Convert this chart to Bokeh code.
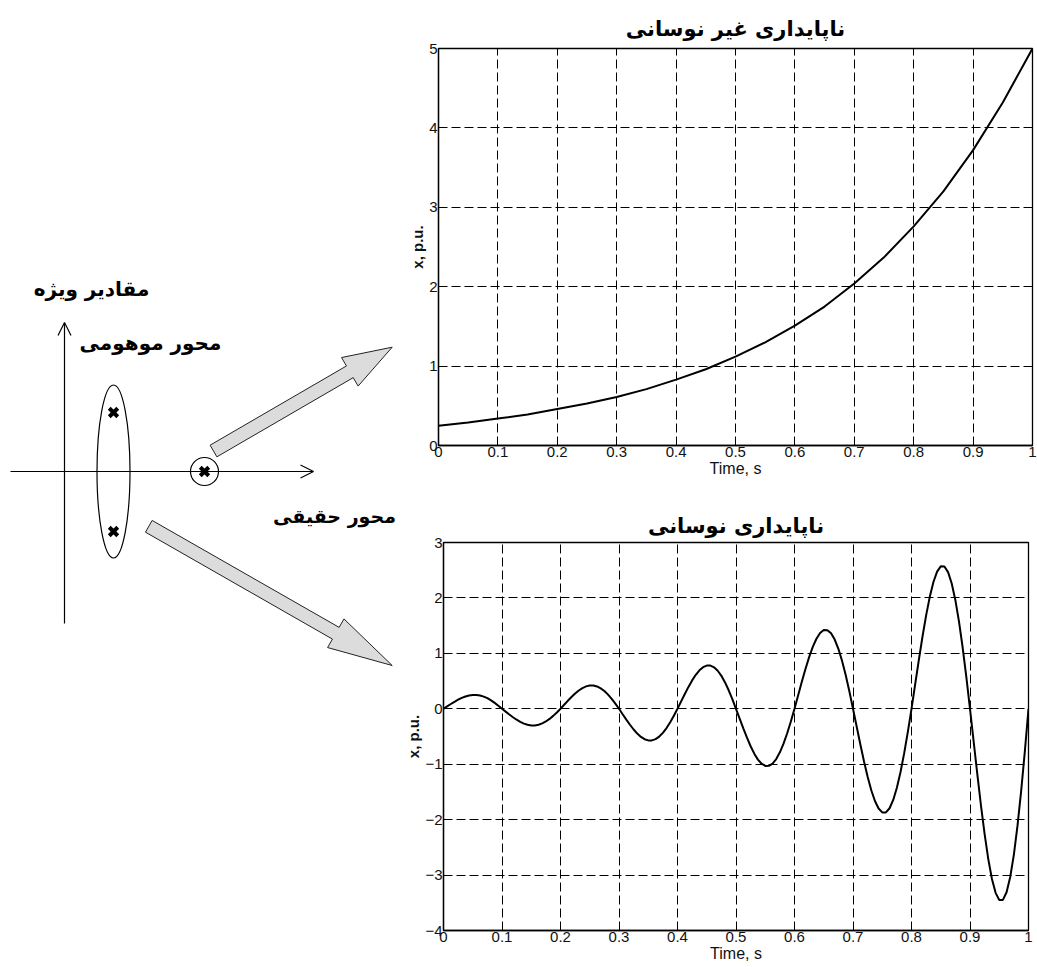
import numpy as np
from bokeh.plotting import figure
from bokeh.layouts import row, column
from bokeh.models import Range1d, FixedTicker, Arrow, OpenHead
from bokeh.embed import file_html
from bokeh.resources import INLINE
from bokeh.core.properties import value

# ---------------- data ----------------
title_top = "ناپایداری غیر نوسانی"
title_bottom = "ناپایداری نوسانی"
label_eig = "مقادیر ویژه"
label_imag = "محور موهومی"
label_real = "محور حقیقی"
x_label = "Time, s"
y_label = "x, p.u."

x_ticks = [0, 0.1, 0.2, 0.3, 0.4, 0.5, 0.6, 0.7, 0.8, 0.9, 1]
x_tick_labels = ["0", "0.1", "0.2", "0.3", "0.4", "0.5", "0.6", "0.7", "0.8", "0.9", "1"]
y_ticks_top = [0, 1, 2, 3, 4, 5]
y_ticks_bottom = [-4, -3, -2, -1, 0, 1, 2, 3]

# non-oscillatory instability
t_top = [0, 0.05, 0.1, 0.15, 0.2, 0.25, 0.3, 0.35, 0.4, 0.45, 0.5,
         0.55, 0.6, 0.65, 0.7, 0.75, 0.8, 0.85, 0.9, 0.95, 1.0]
x_top = [0.25, 0.29, 0.34, 0.39, 0.46, 0.53, 0.61, 0.71, 0.83, 0.96, 1.12,
         1.30, 1.51, 1.75, 2.04, 2.37, 2.76, 3.20, 3.72, 4.32, 5.00]

# oscillatory instability (every 0.00625 s)
t_osc = np.linspace(0, 1, 161)
x_osc = [0,
         0.043, 0.086, 0.126, 0.164, 0.197, 0.222, 0.241, 0.25, 0.250, 0.240, 0.220, 0.191, 0.153, 0.107, 0.056, 0,
         -0.051, -0.103, -0.152, -0.197, -0.236, -0.267, -0.289, -0.30, -0.300, -0.288, -0.264, -0.229, -0.183, -0.128, -0.067, 0,
         0.072, 0.144, 0.212, 0.276, 0.330, 0.374, 0.404, 0.42, 0.420, 0.403, 0.369, 0.320, 0.256, 0.180, 0.093, 0,
         -0.098, -0.195, -0.288, -0.374, -0.448, -0.507, -0.549, -0.57, -0.570, -0.547, -0.501, -0.434, -0.348, -0.244, -0.127, 0,
         0.133, 0.267, 0.395, 0.512, 0.613, 0.694, 0.751, 0.78, 0.779, 0.748, 0.686, 0.595, 0.476, 0.334, 0.174, 0,
         -0.176, -0.352, -0.521, -0.676, -0.810, -0.917, -0.991, -1.03, -1.029, -0.988, -0.906, -0.785, -0.629, -0.441, -0.229, 0,
         0.243, 0.486, 0.718, 0.932, 1.116, 1.264, 1.367, 1.42, 1.419, 1.362, 1.249, 1.082, 0.866, 0.608, 0.316, 0,
         -0.320, -0.640, -0.946, -1.227, -1.470, -1.664, -1.800, -1.87, -1.869, -1.794, -1.645, -1.425, -1.141, -0.801, -0.416, 0,
         0.440, 0.879, 1.300, 1.686, 2.020, 2.287, 2.474, 2.57, 2.568, 2.465, 2.261, 1.959, 1.568, 1.101, 0.572, 0,
         -0.590, -1.180, -1.745, -2.263, -2.712, -3.070, -3.321, -3.45, -3.448, -3.309, -3.035, -2.630, -2.105, -1.478, -0.768, 0]

# eigenvalues in the sketch of the complex plane
pole_re = [49, 49, 140]
pole_im = [59, -60, 0]

# ---------------- left diagram ----------------
FA = value("DejaVu Sans")
left = figure(width=396, height=965, x_range=Range1d(-64, 332), y_range=Range1d(-494, 471),
              output_backend="svg", toolbar_location=None, min_border=0)
left.axis.visible = False
left.grid.visible = False
left.outline_line_color = None

# axes of the complex plane
left.add_layout(Arrow(end=OpenHead(size=13, line_width=1.2), x_start=-54, y_start=0, x_end=249, y_end=0,
                      line_width=1.2, line_color="black"))
left.add_layout(Arrow(end=OpenHead(size=13, line_width=1.2), x_start=0, y_start=-152, x_end=0, y_end=149,
                      line_width=1.2, line_color="black"))

left.ellipse(x=pole_re[0], y=0, width=33, height=173, fill_color=None, line_color="black", line_width=1.2)
left.circle(x=pole_re[2], y=pole_im[2], radius=14, fill_color=None, line_color="black", line_width=1.2)
left.scatter(pole_re, pole_im, marker="x", size=12, line_width=4, line_color="black")


def arrow_poly(tail, tip, shaft_w, head_w, head_l):
    tail = np.array(tail, float)
    tip = np.array(tip, float)
    u = (tip - tail) / np.linalg.norm(tip - tail)
    n = np.array([-u[1], u[0]])
    base = tip - u * head_l
    pts = [tail + n * shaft_w / 2, base + n * shaft_w / 2, base + n * head_w / 2, tip,
           base - n * head_w / 2, base - n * shaft_w / 2, tail - n * shaft_w / 2]
    return [p[0] for p in pts], [p[1] for p in pts]


ax1, ay1 = arrow_poly((149, 20.5), (327.7, 124.3), 13.5, 33, 49)
ax2, ay2 = arrow_poly((84.3, -54.8), (327.7, -194), 13.5, 33, 65)
left.patches([ax1, ax2], [ay1, ay2], fill_color="#dcdcdc", line_color="#222222", line_width=1)

left.text(x=[27, 86], y=[183, 129], text=[label_eig, label_imag],
          text_font=FA, text_font_style="bold", text_font_size="20px",
          text_align="center", text_baseline="middle", text_color="black")
left.text(x=[270], y=[-44], text=[label_real],
          text_font=FA, text_font_style="bold", text_font_size="19px",
          text_align="center", text_baseline="middle", text_color="black")

# ---------------- right plots ----------------
overrides = {t: l for t, l in zip(x_ticks, x_tick_labels)}


def style(p, yticks, standoff):
    p.title.text_font = "DejaVu Sans"
    p.title.text_font_size = "21px"
    p.title.text_font_style = "bold"
    p.title.align = "center"
    p.title.text_color = "black"
    p.title.standoff = standoff
    p.outline_line_color = "black"
    p.outline_line_width = 1.3
    p.xaxis.ticker = FixedTicker(ticks=x_ticks)
    p.xaxis.major_label_overrides = overrides
    p.yaxis.ticker = FixedTicker(ticks=yticks)
    for ax in (p.xaxis, p.yaxis):
        ax.axis_line_color = "black"
        ax.axis_line_width = 1.3
        ax.major_tick_in = 4
        ax.major_tick_out = 0
        ax.major_tick_line_color = "black"
        ax.minor_tick_line_color = None
        ax.major_label_text_font = "Liberation Sans"
        ax.major_label_text_font_size = "15px"
        ax.major_label_text_color = "#111111"
        ax.major_label_standoff = 1
        ax.axis_label_text_font = "Liberation Sans"
        ax.axis_label_text_color = "#111111"
        ax.axis_label_standoff = 0
    p.xaxis.axis_label = x_label
    p.xaxis.axis_label_text_font_size = "16px"
    p.xaxis.axis_label_text_font_style = "normal"
    p.yaxis.axis_label = y_label
    p.yaxis.axis_label_text_font_size = "15px"
    p.yaxis.axis_label_text_font_style = "bold"
    p.xgrid.ticker = FixedTicker(ticks=x_ticks)
    p.ygrid.ticker = FixedTicker(ticks=yticks)
    p.grid.grid_line_color = "black"
    p.grid.grid_line_dash = "9 4"
    p.grid.grid_line_width = 1


top = figure(width=641, height=495, x_range=Range1d(0, 1), y_range=Range1d(0, 5),
             title=title_top, output_backend="svg", toolbar_location=None,
             min_border_left=42, min_border_right=5, min_border_top=48, min_border_bottom=50)
style(top, y_ticks_top, 15)
top.line(t_top, x_top, line_color="black", line_width=2)

bottom = figure(width=641, height=470, x_range=Range1d(0, 1), y_range=Range1d(-4, 3),
                title=title_bottom, output_backend="svg", toolbar_location=None,
                min_border_left=47, min_border_right=9, min_border_top=47, min_border_bottom=35)
style(bottom, y_ticks_bottom, 10)
bottom.line(t_osc, x_osc, line_color="black", line_width=2)

layout = row(left, column(row(top), row(bottom)))
open("out.html", "w").write(file_html(layout, INLINE))
